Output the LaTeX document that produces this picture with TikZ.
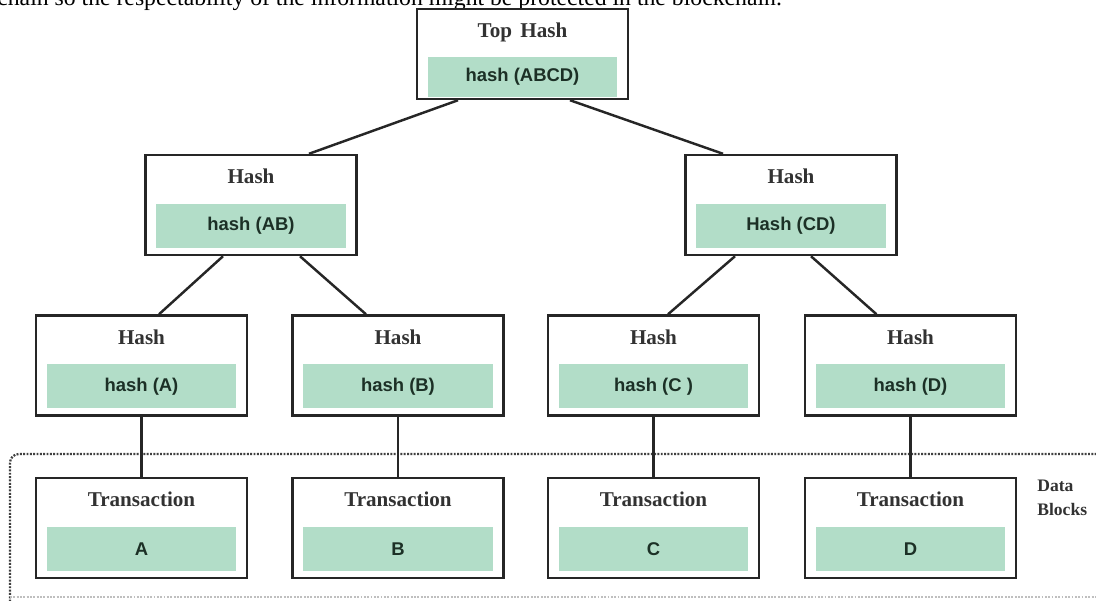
\documentclass[tikz,border=0pt]{standalone}
\usepackage{fontspec}
\setmainfont{Liberation Serif}
\setsansfont{Liberation Sans}
\usepackage{xcolor}
\usetikzlibrary{positioning}
\definecolor{mint}{RGB}{178,221,200}
\definecolor{minttext}{RGB}{28,48,38}
\definecolor{titlegray}{RGB}{50,50,50}

\begin{document}
\begin{tikzpicture}[
  x=0.02cm, y=-0.02cm,
  hashbox/.style={draw=black!85, line width=1.4pt, fill=white, minimum width=4.22cm, minimum height=2cm, inner sep=0pt},
  tophashbox/.style={hashbox, minimum height=1.8cm},
  greenbar/.style={fill=mint, minimum width=3.8cm, minimum height=0.88cm, inner sep=0pt, font=\sffamily\bfseries\fontsize{10.5}{12}\selectfont, text=minttext},
  title/.style={font=\bfseries\fontsize{12}{14}\selectfont, text=titlegray, inner sep=0pt, anchor=base},
  link/.style={line width=1.4pt, draw=black!85},
  framedot/.style={line width=1.3pt, dash pattern=on 1.1pt off 0.8pt, draw=black!75}
]
\useasboundingbox (0,0) rectangle (1096,600);
\clip (0,0) rectangle (1096,600);

\node[anchor=base west, inner sep=0pt, font=\fontsize{13.5}{15}\selectfont] (caption) at (-3,5)
  {chain so the respectability of the information might be protected in the blockchain.};

% data block frame
\draw[framedot, rounded corners=5pt] (1100,454) -- (10,454) -- (10,610);
\draw[framedot, draw=black!25] (10,597) -- (1100,597);

% tree
\node[tophashbox] (top) at (522.5,54) {};
\node[hashbox] (ab) at (251,205) {};
\node[hashbox] (cd) at (791,205) {};
\node[hashbox] (ha) at (141.5,365.5) {};
\node[hashbox] (hb) at (398,365.5) {};
\node[hashbox] (hc) at (653.5,365.5) {};
\node[hashbox] (hd) at (910.5,365.5) {};
\node[hashbox] (txa) at (141.5,528) {};
\node[hashbox] (txb) at (398,528) {};
\node[hashbox] (txc) at (653.5,528) {};
\node[hashbox] (txd) at (910.5,528) {};

\node[title] (toptitle) at ([yshift=-0.6cm]top.north) {Top\hspace{0.4em}Hash};
\node[greenbar, minimum height=0.8cm, above=0.06cm of top.south] (topbar) {hash (ABCD)};

\node[title] (abtitle) at ([yshift=-0.6cm]ab.north) {Hash};
\node[greenbar, above=0.16cm of ab.south] (abbar) {hash (AB)};
\node[title] (cdtitle) at ([yshift=-0.6cm]cd.north) {Hash};
\node[greenbar, above=0.16cm of cd.south] (cdbar) {Hash (CD)};

\node[title] (hatitle) at ([yshift=-0.6cm]ha.north) {Hash};
\node[greenbar, above=0.16cm of ha.south] (habar) {hash (A)};
\node[title] (hbtitle) at ([yshift=-0.6cm]hb.north) {Hash};
\node[greenbar, above=0.16cm of hb.south] (hbbar) {hash (B)};
\node[title] (hctitle) at ([yshift=-0.6cm]hc.north) {Hash};
\node[greenbar, above=0.16cm of hc.south] (hcbar) {hash (C )};
\node[title] (hdtitle) at ([yshift=-0.6cm]hd.north) {Hash};
\node[greenbar, above=0.16cm of hd.south] (hdbar) {hash (D)};

\node[title] (txatitle) at ([yshift=-0.6cm]txa.north) {Transaction};
\node[greenbar, above=0.16cm of txa.south] (txabar) {A};
\node[title] (txbtitle) at ([yshift=-0.6cm]txb.north) {Transaction};
\node[greenbar, above=0.16cm of txb.south] (txbbar) {B};
\node[title] (txctitle) at ([yshift=-0.6cm]txc.north) {Transaction};
\node[greenbar, above=0.16cm of txc.south] (txcbar) {C};
\node[title] (txdtitle) at ([yshift=-0.6cm]txd.north) {Transaction};
\node[greenbar, above=0.16cm of txd.south] (txdbar) {D};

\draw[link] ([xshift=-1.29cm]top.south) -- ([xshift=1.16cm]ab.north);
\draw[link] ([xshift=0.95cm]top.south) -- ([xshift=-1.36cm]cd.north);
\draw[link] ([xshift=-0.56cm]ab.south) -- ([xshift=0.35cm]ha.north);
\draw[link] ([xshift=0.98cm]ab.south) -- ([xshift=-0.64cm]hb.north);
\draw[link] ([xshift=-1.12cm]cd.south) -- ([xshift=0.29cm]hc.north);
\draw[link] ([xshift=0.4cm]cd.south) -- ([xshift=-0.68cm]hd.north);
\draw[link] (ha) -- (txa);
\draw[link] (hb) -- (txb);
\draw[link] (hc) -- (txc);
\draw[link] (hd) -- (txd);

\node[anchor=base west, align=left, inner sep=0pt, font=\bfseries\fontsize{10}{13.6}\selectfont, text=titlegray] (datalabel) at (1037,515) {Data\\Blocks};

\end{tikzpicture}
\end{document}
